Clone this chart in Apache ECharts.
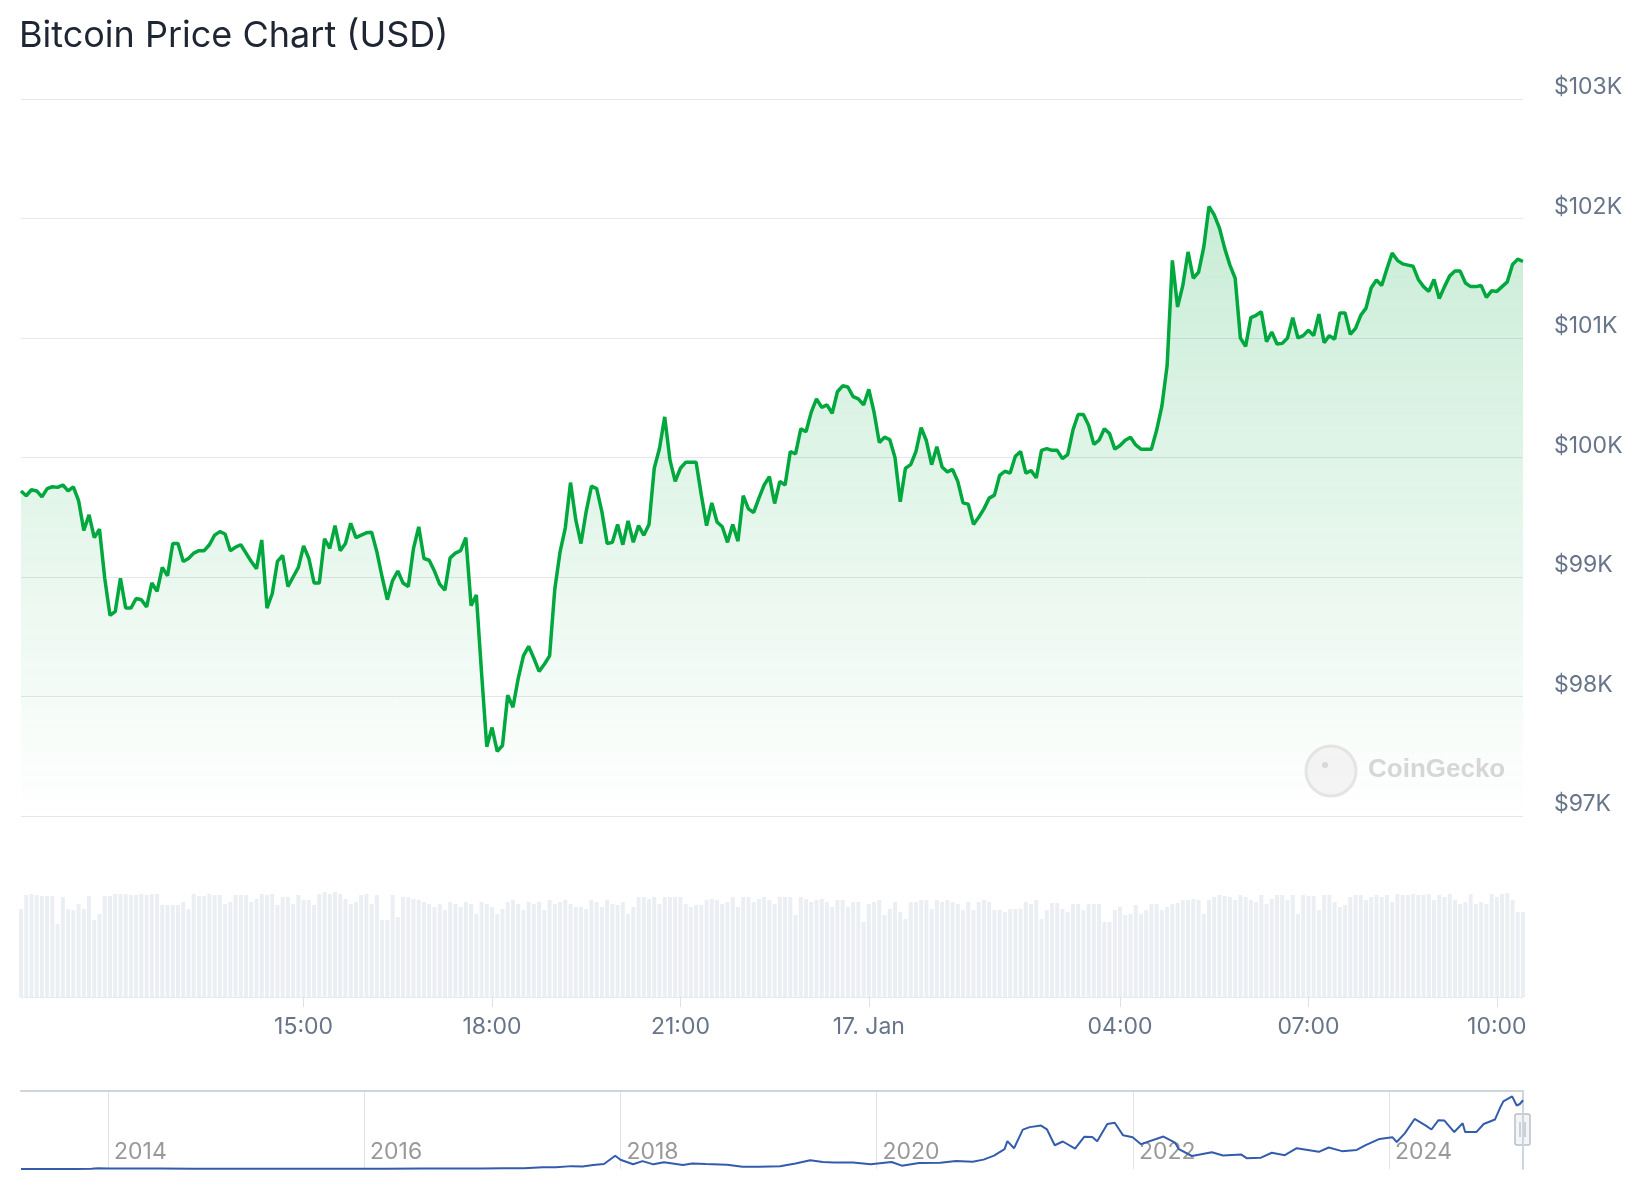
<!DOCTYPE html>
<html>
<head>
<meta charset="utf-8">
<title>Bitcoin Price Chart (USD)</title>
<script src="https://cdn.jsdelivr.net/npm/echarts@6/dist/echarts.min.js"></script>
<style>
  html, body { margin: 0; padding: 0; background: #fff; }
  #chart { width: 1644px; height: 1200px; }
</style>
</head>
<body>
<div id="chart"></div>
<script>
// 24h price, one point every 5 minutes (16 Jan 10:30 -> 17 Jan 10:25)
const prices = [
  99720, 99680, 99730, 99720, 99670, 99740, 99755, 99750, 99770, 99720,
  99755, 99640, 99390, 99520, 99330, 99400, 98990, 98680, 98710, 98990,
  98740, 98740, 98820, 98810, 98750, 98950, 98880, 99080, 99010, 99280,
  99280, 99130, 99155, 99200, 99220, 99220, 99270, 99350, 99380, 99360,
  99220, 99250, 99270, 99200, 99130, 99070, 99310, 98740, 98860, 99130,
  99180, 98920, 99000, 99080, 99260, 99155, 98950, 98950, 99320, 99240,
  99430, 99220, 99280, 99450, 99330, 99350, 99370, 99375, 99210, 99000,
  98810, 98970, 99050, 98950, 98920, 99240, 99420, 99155, 99140, 99050,
  98940, 98890, 99160, 99200, 99220, 99330, 98760, 98850, 98200, 97580,
  97740, 97540, 97590, 98010, 97910, 98150, 98340, 98420, 98320, 98210,
  98270, 98340, 98900, 99210, 99410, 99790, 99480, 99280, 99550, 99760,
  99740, 99545, 99280, 99290, 99440, 99270, 99470, 99290, 99430, 99350,
  99440, 99910, 100075, 100340, 99980, 99800, 99910, 99960, 99960, 99960,
  99685, 99430, 99620, 99460, 99420, 99290, 99440, 99300, 99680, 99570,
  99540, 99660, 99770, 99840, 99615, 99800, 99770, 100050, 100030, 100240,
  100215, 100380, 100490, 100420, 100440, 100370, 100550, 100600, 100590, 100510,
  100490, 100440, 100570, 100380, 100125, 100170, 100150, 100000, 99630, 99910,
  99940, 100050, 100250, 100140, 99940, 100090, 99920, 99880, 99900, 99800,
  99620, 99610, 99440, 99500, 99570, 99660, 99685, 99850, 99885, 99870,
  100010, 100050, 99870, 99890, 99830, 100060, 100075, 100060, 100060, 99990,
  100025, 100230, 100360, 100360, 100270, 100110, 100145, 100240, 100200, 100070,
  100100, 100145, 100170, 100105, 100070, 100070, 100070, 100230, 100430, 100770,
  101650, 101260, 101440, 101720, 101500, 101550, 101760, 102100, 102030, 101920,
  101750, 101610, 101500, 101000, 100930, 101170, 101190, 101220, 100970, 101050,
  100950, 100955, 101000, 101170, 101000, 101020, 101065, 101020, 101200, 100960,
  101020, 100990, 101210, 101210, 101030, 101080, 101190, 101250, 101420, 101485,
  101440, 101580, 101710, 101650, 101620, 101610, 101600, 101490, 101430, 101390,
  101490, 101330, 101430, 101520, 101560, 101560, 101460, 101430, 101430, 101440,
  101340, 101395, 101390, 101430, 101470, 101615, 101660, 101640
]

// volume bars (relative units)
const volumes = [
  88, 102, 103, 102, 101, 101, 101, 73, 100, 88,
  87, 93, 88, 101, 77, 83, 101, 101, 103, 103,
  103, 102, 102, 103, 102, 103, 103, 92, 92, 92,
  92, 95, 88, 103, 101, 101, 103, 102, 102, 93,
  95, 102, 102, 102, 95, 98, 103, 102, 103, 92,
  100, 100, 93, 102, 97, 97, 92, 103, 105, 103,
  105, 103, 98, 93, 95, 102, 103, 93, 102, 77,
  77, 102, 80, 100, 100, 98, 97, 95, 93, 90,
  93, 87, 95, 93, 90, 95, 93, 83, 95, 93,
  90, 83, 88, 95, 97, 93, 87, 95, 93, 95,
  87, 97, 93, 95, 97, 93, 90, 90, 88, 97,
  95, 90, 97, 93, 92, 95, 83, 90, 100, 100,
  98, 100, 93, 100, 100, 100, 100, 93, 90, 92,
  92, 97, 98, 97, 93, 95, 100, 90, 100, 100,
  95, 98, 100, 97, 93, 100, 100, 100, 82, 100,
  98, 95, 97, 98, 95, 90, 97, 97, 90, 95,
  95, 75, 93, 95, 97, 82, 88, 95, 85, 78,
  95, 95, 97, 97, 88, 97, 95, 97, 95, 93,
  87, 95, 87, 95, 97, 95, 87, 87, 85, 88,
  88, 88, 95, 93, 97, 78, 87, 94, 94, 88,
  85, 93, 93, 87, 93, 93, 93, 75, 75, 87,
  90, 82, 83, 92, 83, 87, 93, 93, 87, 90,
  93, 94, 97, 97, 98, 97, 83, 97, 100, 102,
  101, 100, 97, 102, 100, 97, 95, 102, 93, 98,
  102, 102, 97, 102, 83, 102, 101, 101, 87, 102,
  102, 95, 90, 92, 100, 102, 102, 97, 100, 102,
  100, 102, 95, 103, 102, 102, 103, 102, 102, 103,
  97, 102, 100, 103, 97, 93, 95, 103, 93, 95,
  93, 103, 100, 103, 104, 97, 85, 85
]

// x labels that are shown on the time axis
const tickLabels = ['15:00', '18:00', '21:00', '00:00', '04:00', '07:00', '10:00']

// navigator: full history
const navDates = [
  '2013-04-28', '2013-06-01', '2013-08-01', '2013-10-01', '2013-11-15', '2013-12-04',
  '2014-01-01', '2014-03-01', '2014-06-01', '2014-09-01', '2014-12-01',
  '2015-03-01', '2015-06-01', '2015-09-01', '2015-12-01',
  '2016-03-01', '2016-06-15', '2016-09-01', '2016-12-01',
  '2017-02-01', '2017-04-01', '2017-05-25', '2017-07-01', '2017-08-15', '2017-09-15',
  '2017-10-15', '2017-11-15', '2017-12-17',
  '2018-01-01', '2018-02-06', '2018-03-05', '2018-04-05', '2018-05-05', '2018-06-28',
  '2018-07-25', '2018-09-01', '2018-11-01', '2018-12-15',
  '2019-02-01', '2019-04-01', '2019-05-15', '2019-06-26', '2019-08-01', '2019-09-01',
  '2019-10-26', '2019-12-15',
  '2020-02-13', '2020-03-13', '2020-05-01', '2020-07-01', '2020-08-15', '2020-10-01',
  '2020-11-01', '2020-12-01', '2020-12-31',
  '2021-01-08', '2021-01-27', '2021-02-21', '2021-03-13', '2021-04-14', '2021-05-01',
  '2021-05-23', '2021-06-15', '2021-07-20', '2021-08-15', '2021-09-07', '2021-09-21',
  '2021-10-20', '2021-11-10', '2021-12-04', '2021-12-31',
  '2022-01-24', '2022-03-29', '2022-05-01', '2022-05-12', '2022-06-18', '2022-08-14',
  '2022-09-15', '2022-11-05', '2022-11-21',
  '2023-01-01', '2023-02-01', '2023-03-10', '2023-04-13', '2023-06-15', '2023-07-13',
  '2023-08-20', '2023-10-01', '2023-10-25', '2023-12-05',
  '2024-01-11', '2024-01-23', '2024-02-15', '2024-03-14', '2024-04-15', '2024-05-01',
  '2024-05-21', '2024-06-07', '2024-07-05', '2024-07-29', '2024-08-05', '2024-09-06',
  '2024-09-27', '2024-10-29', '2024-11-12', '2024-11-22', '2024-12-17', '2024-12-30',
  '2025-01-08', '2025-01-17'
]
const navPrices = [
  135, 120, 100, 130, 430, 1150,
  770, 560, 650, 480, 380,
  260, 225, 230, 380,
  430, 750, 570, 750,
  1000, 1100, 2500, 2450, 4200, 3600,
  5700, 7300, 19300,
  13500, 7000, 11500, 6800, 9800, 5900,
  8200, 7200, 6300, 3250,
  3450, 4100, 8000, 12900, 10400, 9600,
  9500, 7100,
  10300, 4900, 8800, 9100, 11800, 10600,
  13700, 19600, 29000,
  40800, 30400, 57500, 61200, 63500, 57800,
  34700, 40200, 29800, 47000, 46800, 40600,
  65900, 67600, 49200, 46300,
  36300, 47400, 38500, 29000, 19000, 24400,
  19700, 21300, 15800,
  16600, 23700, 20200, 30400, 25100, 31400,
  26100, 27900, 34500, 44000,
  46300, 39500, 52000, 73100, 63400, 57700,
  71400, 70800, 54000, 66800, 54000, 53900,
  65800, 72300, 88700, 98800, 106100, 92800,
  95000, 100500
]
const navYears = [2014, 2016, 2018, 2020, 2022, 2024]

const pad = n => (n < 10 ? '0' : '') + n
const startTime = Date.UTC(2025, 0, 16, 10, 30)
const times = prices.map((p, i) => {
  const d = new Date(startTime + i * 5 * 60 * 1000)
  return pad(d.getUTCHours()) + ':' + pad(d.getUTCMinutes())
})
const showTick = (idx, val) => tickLabels.indexOf(val) >= 0
const yearTicks = navYears.map(y => Date.UTC(y, 0, 1))

const font = 'Inter'
const chart = echarts.init(document.getElementById('chart'))

chart.setOption({
  animation: false,
  title: {
    text: 'Bitcoin Price Chart (USD)',
    left: 19,
    top: 16,
    padding: 0,
    textStyle: {
      fontFamily: font,
      fontSize: 36,
      lineHeight: 40,
      fontWeight: 'normal',
      color: '#1f2633'
    }
  },
  grid: [
    // price
    {left: 21, right: 121, top: 99, bottom: 384},
    // volume
    {left: 21, right: 121, top: 890, bottom: 203},
    // navigator
    {left: 21, right: 121, top: 1091, bottom: 31}
  ],
  xAxis: [
    {
      gridIndex: 0,
      type: 'category',
      data: times,
      boundaryGap: false,
      show: false
    },
    {
      gridIndex: 1,
      type: 'category',
      data: times,
      boundaryGap: false,
      axisLine: {lineStyle: {color: '#e6e9ee', width: 1}},
      axisTick: {interval: showTick, length: 10, lineStyle: {color: '#dde1e7'}},
      axisLabel: {
        interval: showTick,
        margin: 19,
        fontFamily: font,
        fontSize: 23,
        color: '#677489',
        formatter: v => (v === '00:00' ? '17. Jan' : v)
      },
      splitLine: {show: false}
    },
    {
      gridIndex: 2,
      type: 'value',
      min: Date.parse(navDates[0]),
      max: Date.parse(navDates[navDates.length - 1]),
      axisLine: {show: false, onZero: false},
      axisTick: {show: false, customValues: yearTicks},
      splitLine: {show: true, lineStyle: {color: '#e3e3e3', width: 1}},
      axisLabel: {
        customValues: yearTicks,
        inside: true,
        margin: 5,
        align: 'left',
        padding: [0, 0, 0, 6],
        fontFamily: font,
        fontSize: 23,
        color: '#999999',
        formatter: v => String(new Date(v).getUTCFullYear())
      }
    },
    // top outline of the navigator
    {
      gridIndex: 2,
      type: 'value',
      position: 'top',
      min: 0,
      max: 1,
      axisLine: {show: true, onZero: false, lineStyle: {color: '#cfd5dd', width: 2}},
      axisTick: {show: false},
      axisLabel: {show: false},
      splitLine: {show: false}
    }
  ],
  yAxis: [
    {
      gridIndex: 0,
      type: 'value',
      position: 'right',
      min: 97000,
      max: 103000,
      interval: 1000,
      axisLine: {show: false},
      axisTick: {show: false},
      splitLine: {lineStyle: {color: '#e4e7eb', width: 1}},
      axisLabel: {
        margin: 31,
        align: 'left',
        verticalAlign: 'bottom',
        fontFamily: font,
        fontSize: 23,
        color: '#677489',
        formatter: v => '$' + v / 1000 + 'K'
      }
    },
    {
      gridIndex: 1,
      type: 'value',
      min: 0,
      max: 107,
      show: false
    },
    {
      gridIndex: 2,
      type: 'value',
      position: 'right',
      min: 0,
      max: 114000,
      axisLine: {show: true, onZero: false, lineStyle: {color: '#cfd5dd', width: 2}},
      axisTick: {show: false},
      axisLabel: {show: false},
      splitLine: {show: false}
    }
  ],
  series: [
    {
      name: 'Price',
      type: 'line',
      xAxisIndex: 0,
      yAxisIndex: 0,
      data: prices,
      symbol: 'none',
      lineStyle: {color: '#00a83e', width: 3.5},
      areaStyle: {
        color: new echarts.graphic.LinearGradient(0, 0, 0, 1, [
          {offset: 0, color: 'rgba(0, 168, 62, 0.3)'},
          {offset: 1, color: 'rgba(0, 168, 62, 0.0)'}
        ])
      },
      z: 3
    },
    {
      name: 'Volume',
      type: 'bar',
      xAxisIndex: 1,
      yAxisIndex: 1,
      data: volumes,
      barWidth: 4,
      itemStyle: {color: '#ebeff3'}
    },
    {
      name: 'Navigator',
      type: 'line',
      xAxisIndex: 2,
      yAxisIndex: 2,
      data: navDates.map((d, i) => [Date.parse(d), navPrices[i]]),
      symbol: 'none',
      lineStyle: {color: '#335cad', width: 2}
    }
  ],
  graphic: [
    // watermark
    {
      type: 'circle',
      shape: {cx: 1331, cy: 771, r: 25},
      style: {fill: 'rgba(240,240,240,0.7)', stroke: '#e4e4e4', lineWidth: 3},
      z: 10
    },
    {
      type: 'circle',
      shape: {cx: 1325, cy: 765, r: 3},
      style: {fill: '#d8d8d8'},
      z: 11
    },
    {
      type: 'text',
      x: 1368,
      y: 770,
      style: {
        text: 'CoinGecko',
        font: 'bold 26px "Liberation Sans", Arial',
        fill: '#d6d6d6',
        verticalAlign: 'middle'
      },
      z: 10
    },
    // navigator handle
    {
      type: 'group',
      x: 1515,
      y: 1114,
      z: 20,
      children: [
        {type: 'rect', shape: {x: 0, y: 0, width: 15, height: 31, r: 2},
          style: {fill: '#f4f5f7', stroke: '#b8c0ca', lineWidth: 1.5}},
        {type: 'line', shape: {x1: 5, y1: 8, x2: 5, y2: 23}, style: {stroke: '#a3acb8', lineWidth: 1}},
        {type: 'line', shape: {x1: 7.5, y1: 8, x2: 7.5, y2: 23}, style: {stroke: '#a3acb8', lineWidth: 1}},
        {type: 'line', shape: {x1: 10, y1: 8, x2: 10, y2: 23}, style: {stroke: '#a3acb8', lineWidth: 1}}
      ]
    }
  ]
})
</script>
</body>
</html>
